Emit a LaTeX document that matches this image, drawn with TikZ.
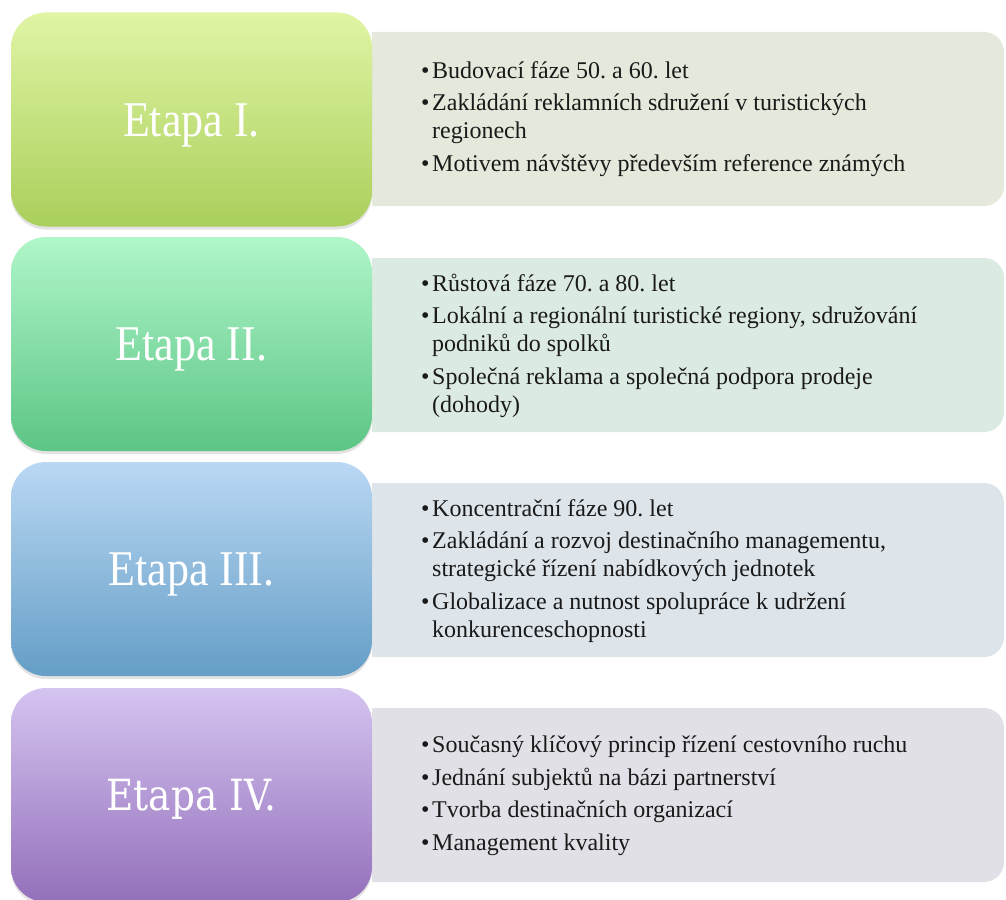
\documentclass[tikz,border=0pt]{standalone}
\usepackage{fontspec}
\usepackage{graphicx}
\setmainfont{Liberation Serif}
\newfontfamily\dvserif{DejaVu Serif}
\usetikzlibrary{shadows}
\frenchspacing
\definecolor{gAtop}{HTML}{E0F5A5}\definecolor{gAbot}{HTML}{AACF5B}
\definecolor{gBtop}{HTML}{B0F6C9}\definecolor{gBbot}{HTML}{5CC585}
\definecolor{gCtop}{HTML}{BAD8F4}\definecolor{gCbot}{HTML}{659EC6}
\definecolor{gDtop}{HTML}{D4C4F0}\definecolor{gDbot}{HTML}{9470BB}
\definecolor{panA}{HTML}{E4E9DB}\definecolor{panB}{HTML}{DCEBE2}
\definecolor{panC}{HTML}{DDE4EA}\definecolor{panD}{HTML}{E2E0E7}
\definecolor{txt}{HTML}{1A1A1A}
\newcommand{\bul}{\makebox[11pt][l]{\textbullet}}
\tikzset{
  stagebox/.style={rectangle, rounded corners=35pt, minimum width=361pt, minimum height=214pt,
    inner sep=0pt, text=white, text height=33pt, text depth=0pt,
    font=\fontsize{50}{50}\selectfont,
    drop shadow={opacity=0.22, shadow xshift=0pt, shadow yshift=-3pt}},
  panelfill/.style={rounded corners=20pt},
  itemtext/.style={anchor=west, inner sep=0pt, text=txt, font=\fontsize{24}{28}\selectfont\frenchspacing}
}
\begin{document}
\begin{tikzpicture}[x=1pt,y=-1pt]
\useasboundingbox (0,0) rectangle (1006,899);
% panels
\begin{scope}
\clip (372,0) rectangle (1006,899);
\fill[panA, panelfill] (300,32) rectangle (1004,206);
\fill[panB, panelfill] (300,258) rectangle (1004,432);
\fill[panC, panelfill] (300,483) rectangle (1004,657);
\fill[panD, panelfill] (300,708) rectangle (1004,882);
\end{scope}
% stage boxes
\node[stagebox, top color=gAtop, bottom color=gAbot] (e1) at (191.5,119.5) {\scalebox{0.88}[1]{Etapa I.}};
\node[stagebox, top color=gBtop, bottom color=gBbot] (e2) at (191.5,344) {\scalebox{0.88}[1]{Etapa II.}};
\node[stagebox, top color=gCtop, bottom color=gCbot] (e3) at (191.5,569) {\scalebox{0.88}[1]{Etapa III.}};
\node[stagebox, top color=gDtop, bottom color=gDbot, text height=31pt] (e4) at (191.5,795) {\dvserif\fontsize{43}{43}\selectfont\resizebox{170pt}{\height}{Etapa IV.}};
% texts
\node[itemtext] (t1) at (421,119) {\begin{tabular}{@{}l@{}l@{}}
\bul & Budovací fáze 50. a 60. let\\[4.5pt]
\bul & Zakládání reklamních sdružení v turistických\\
 & regionech\\[4.5pt]
\bul & Motivem návštěvy především reference známých
\end{tabular}};
\node[itemtext] (t2) at (421,346) {\begin{tabular}{@{}l@{}l@{}}
\bul & Růstová fáze 70. a 80. let\\[4.5pt]
\bul & Lokální a regionální turistické regiony, sdružování\\
 & podniků do spolků\\[4.5pt]
\bul & Společná reklama a společná podpora prodeje\\
 & (dohody)
\end{tabular}};
\node[itemtext] (t3) at (421,571) {\begin{tabular}{@{}l@{}l@{}}
\bul & Koncentrační fáze 90. let\\[4.5pt]
\bul & Zakládání a rozvoj destinačního managementu,\\
 & strategické řízení nabídkových jednotek\\[4.5pt]
\bul & Globalizace a nutnost spolupráce k udržení\\
 & konkurenceschopnosti
\end{tabular}};
\node[itemtext] (t4) at (421,796) {\begin{tabular}{@{}l@{}l@{}}
\bul & Současný klíčový princip řízení cestovního ruchu\\[4.5pt]
\bul & Jednání subjektů na bázi partnerství\\[4.5pt]
\bul & Tvorba destinačních organizací\\[4.5pt]
\bul & Management kvality
\end{tabular}};
\end{tikzpicture}
\end{document}
